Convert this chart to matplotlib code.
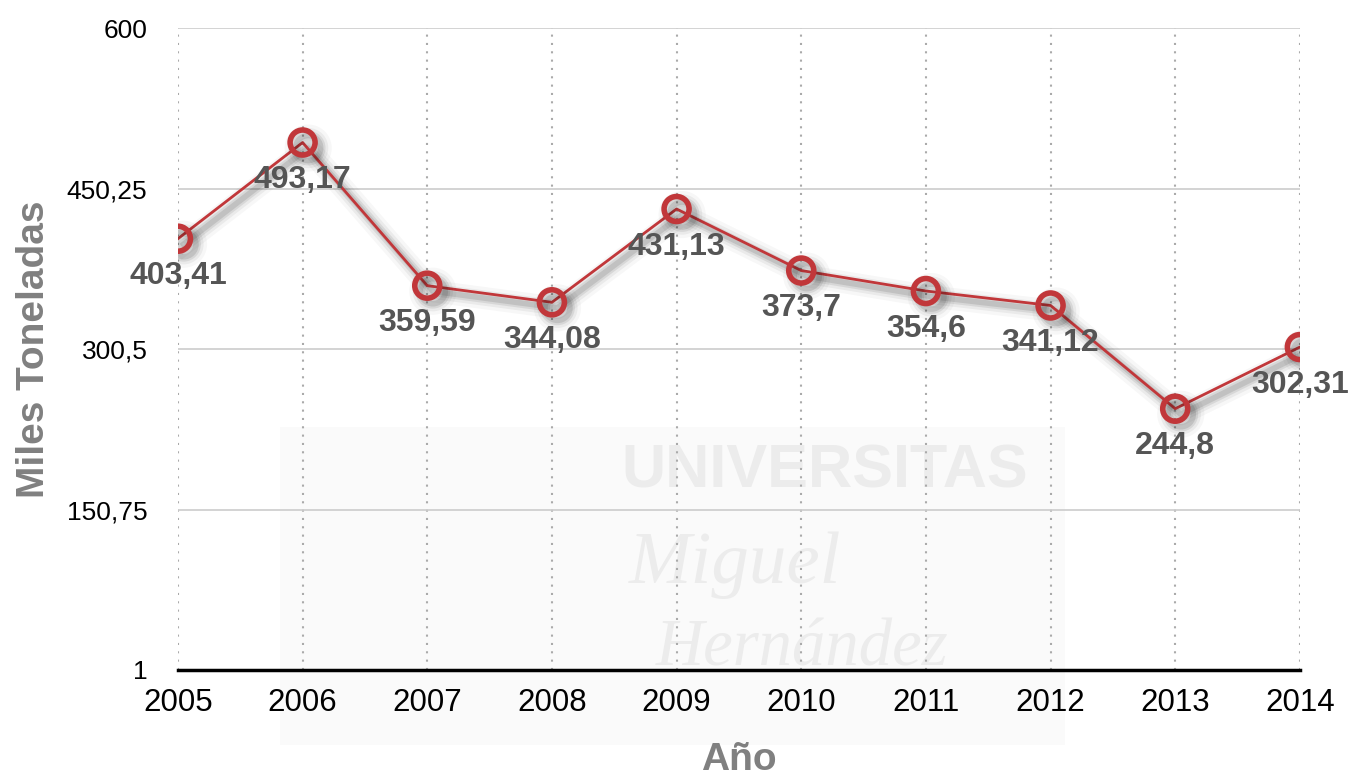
import matplotlib
matplotlib.use("Agg")
import matplotlib.pyplot as plt
import matplotlib.patheffects as pe
from matplotlib.patches import Rectangle

plt.rcParams["font.family"] = ["Liberation Sans", "DejaVu Sans"]

# Data
years = [2005, 2006, 2007, 2008, 2009, 2010, 2011, 2012, 2013, 2014]
values = [403.41, 493.17, 359.59, 344.08, 431.13, 373.7, 354.6, 341.12, 244.8, 302.31]
y_ticks = [1, 150.75, 300.5, 450.25, 600]
y_tick_labels = ["1", "150,75", "300,5", "450,25", "600"]

red = "#c1373a"

fig = plt.figure(figsize=(13.48, 7.76), dpi=100)
ax = fig.add_axes([0.1320, 0.1366, 0.8323, 0.8273])
ax.patch.set_alpha(0)
ax.set_zorder(1)

# Faint watermark in the background
fig.patches.append(Rectangle((0.208, 0.04), 0.582, 0.41, transform=fig.transFigure,
                             facecolor="#fafafa", edgecolor="none", zorder=0))
wm = "#ececec"
fig.text(0.612, 0.392, "UNIVERSITAS", fontsize=44, fontweight="bold", color=wm,
         ha="center", va="center", zorder=0.1)
fig.text(0.545, 0.272, "Miguel", fontsize=54, style="italic", color=wm,
         ha="center", va="center", zorder=0.1, family="Liberation Serif")
fig.text(0.595, 0.143, "Hernández", fontsize=48, style="italic", color=wm,
         ha="center", va="baseline", zorder=0.1, family="Liberation Serif")

# Line with soft shadow
shadow = [pe.SimpleLineShadow(offset=(4, -4), shadow_color="black", alpha=a, linewidth=w)
          for w, a in [(16, 0.03), (11, 0.05), (7, 0.08), (4, 0.10)]]
ax.plot(years, values, color=red, linewidth=2, marker="o", markersize=18,
        markerfacecolor="none", markeredgecolor=red, markeredgewidth=4, zorder=3,
        path_effects=shadow + [pe.Normal()])

# Value labels below each point
for x, v in zip(years, values):
    ax.annotate(str(v).replace(".", ","), (x, v), xytext=(0, -27), textcoords="offset points",
                ha="center", va="center", fontsize=23, fontweight="bold", color="#555555", zorder=4)

# Axes formatting
ax.set_xlim(2005, 2014)
ax.set_ylim(1, 600)
ax.set_xticks(years)
ax.set_xticklabels([str(y) for y in years], fontsize=22.5)
ax.set_yticks(y_ticks)
ax.set_yticklabels(y_tick_labels, fontsize=19)
ax.tick_params(axis="both", length=0)
ax.tick_params(axis="x", pad=13)
ax.tick_params(axis="y", pad=22)

ax.set_axisbelow(True)
ax.yaxis.grid(True, color="#cccccc", linewidth=1.2, linestyle="-")
ax.xaxis.grid(True, color="#aaaaaa", linewidth=1.5, linestyle=(0, (1, 3)))

for side in ["top", "right", "left"]:
    ax.spines[side].set_visible(False)
ax.spines["bottom"].set_linewidth(2.5)
ax.spines["bottom"].set_color("black")
ax.spines["bottom"].set_zorder(2)

ax.set_xlabel("Año", fontsize=28, fontweight="bold", color="#808080")
ax.xaxis.set_label_coords(0.5, -0.112)
ax.set_ylabel("Miles Toneladas", fontsize=28, fontweight="bold", color="#808080")
ax.yaxis.set_label_coords(-0.112, 0.5)

fig.savefig("out.png", dpi=100)
